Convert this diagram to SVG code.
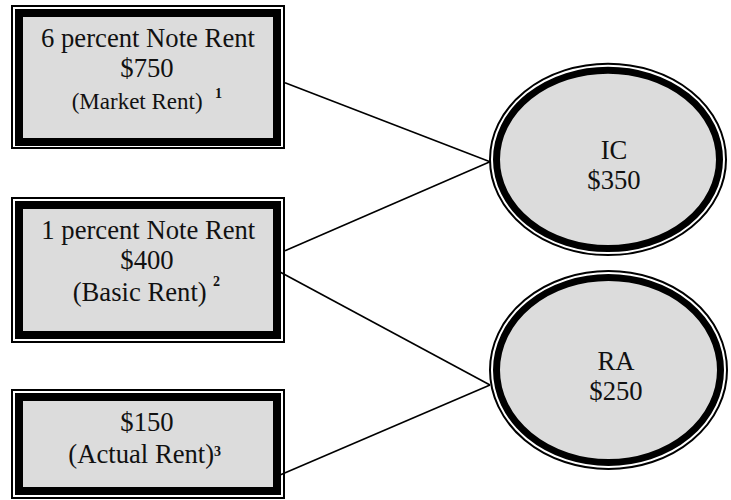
<svg xmlns="http://www.w3.org/2000/svg" width="731" height="500" viewBox="0 0 731 500">
<style>
.oline{fill:none;stroke:#000;stroke-width:2}
.band{fill:#dcdcdc;stroke:#000;stroke-width:8}
.eband{fill:#dcdcdc;stroke:#000;stroke-width:7}
.t{font-family:"Liberation Serif","Times New Roman",serif;font-size:26.67px;fill:#111}
.m{text-anchor:middle}
.sup{font-size:14px;font-weight:bold}
.conn{stroke:#000;stroke-width:1.6;fill:none}
</style>
<rect width="731" height="500" fill="#fff"/>
<g id="connectors">
<line class="conn" x1="285" y1="82.7" x2="490" y2="161.7"/>
<line class="conn" x1="285" y1="250.7" x2="490" y2="161.7"/>
<line class="conn" x1="280" y1="272" x2="490" y2="385"/>
<line class="conn" x1="280" y1="475" x2="490" y2="385"/>
</g>
<g id="box1">
<rect class="oline" x="12" y="6" width="272" height="142"/>
<rect class="band" x="19" y="13" width="258" height="129"/>
<text class="t m" x="148" y="47">6 percent Note Rent</text>
<text class="t m" x="147" y="76.5">$750</text>
<text class="t" x="71.7" y="109.3" style="font-size:23px">(Market Rent)<tspan class="sup" x="215" y="98.3">1</tspan></text>
</g>
<g id="box2">
<rect class="oline" x="12" y="198" width="272" height="144"/>
<rect class="band" x="19" y="205" width="258" height="130"/>
<text class="t m" x="148.3" y="239.3">1 percent Note Rent</text>
<text class="t m" x="147" y="269.3">$400</text>
<text class="t" x="72.7" y="300.5">(Basic Rent)<tspan class="sup" x="213" y="286">2</tspan></text>
</g>
<g id="box3">
<rect class="oline" x="12" y="390" width="272" height="108"/>
<rect class="band" x="19" y="397" width="258" height="94"/>
<text class="t m" x="147" y="430.7">$150</text>
<text class="t" x="68.3" y="462.7">(Actual Rent)<tspan class="sup" x="214" y="456">3</tspan></text>
</g>
<g id="ic">
<ellipse class="oline" cx="608" cy="159.4" rx="118" ry="95.7"/>
<ellipse class="eband" cx="608" cy="159.4" rx="111.5" ry="89.2"/>
<text class="t m" x="614" y="159.3">IC</text>
<text class="t m" x="614" y="189">$350</text>
</g>
<g id="ra">
<ellipse class="oline" cx="608.5" cy="370" rx="118.5" ry="99"/>
<ellipse class="eband" cx="608.5" cy="370" rx="112" ry="92.5"/>
<text class="t m" x="616" y="370">RA</text>
<text class="t m" x="616" y="400">$250</text>
</g>
</svg>
